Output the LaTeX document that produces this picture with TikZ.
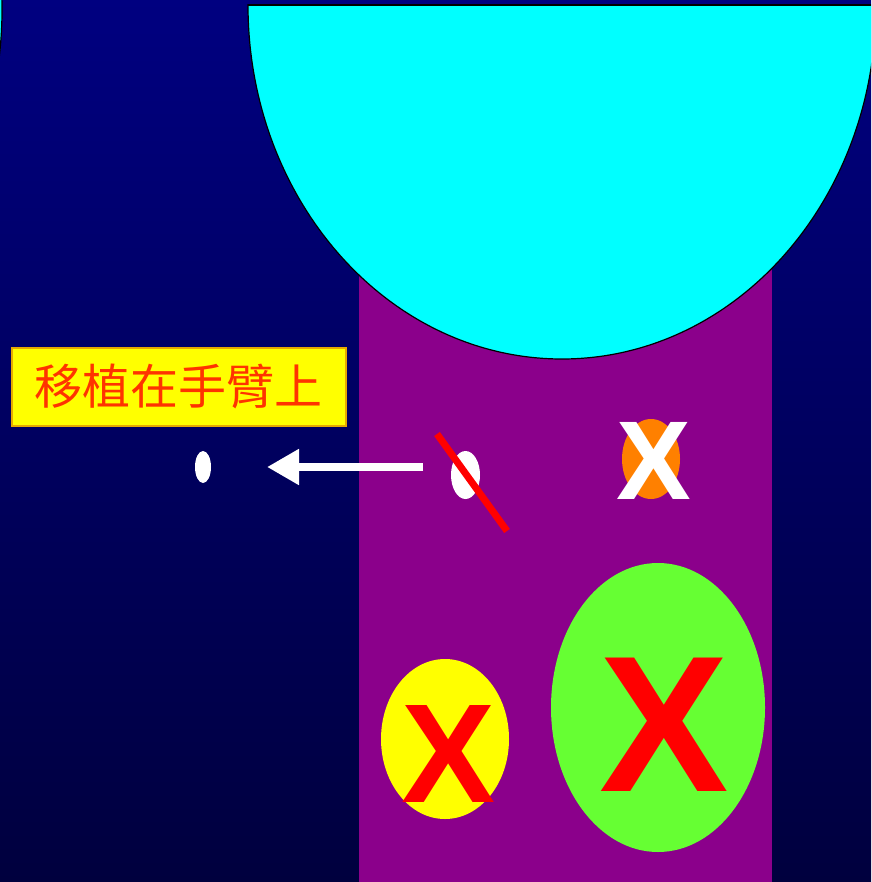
\documentclass[tikz,border=0pt]{standalone}
\usepackage{fontspec}
\setmainfont{Liberation Sans}
\newfontfamily\cjk{Noto Sans CJK TC}
\usetikzlibrary{shapes.geometric,arrows.meta}
\definecolor{bgtop}{RGB}{0,0,128}
\definecolor{bgbot}{RGB}{0,0,62}
\definecolor{cyanfill}{RGB}{0,255,255}
\definecolor{purp}{RGB}{139,0,139}
\definecolor{lime}{RGB}{102,255,51}
\definecolor{orng}{RGB}{255,128,0}
\definecolor{yel}{RGB}{255,255,0}
\definecolor{lblborder}{RGB}{230,170,0}
\definecolor{lbltext}{RGB}{255,51,0}
\tikzset{
  blob/.style={ellipse, inner sep=0pt, draw=none},
  bigx/.style={anchor=base, inner sep=0pt, font=\bfseries\fontsize{#1}{#1}\selectfont},
}
\begin{document}
\begin{tikzpicture}[x=1pt,y=-1pt]
\useasboundingbox (0,0) rectangle (871,882);
\clip (0,0) rectangle (871,882);
% background
\shade[top color=bgtop, bottom color=bgbot] (0,0) rectangle (871,882);
% purple column
\fill[purp] (359,250) rectangle (772,882);
% top-left sliver
\filldraw[fill=cyanfill, draw=black, line width=1.2] (-312,10) ellipse [x radius=314, y radius=354];
% cyan half-ellipse
\begin{scope}
\clip (0,5) rectangle (871,882);
\filldraw[fill=cyanfill, draw=black, line width=1.2] (562,5) ellipse [x radius=314, y radius=354];
\end{scope}
\draw[black, line width=1.2] (248,5) -- (871,5);
% label
\node[draw=lblborder, line width=2, fill=yel, minimum width=334pt, minimum height=78pt, inner sep=0pt,
  text=lbltext, font=\cjk\fontsize{48}{48}\selectfont] (lbl) at (178.5,386.5) {移植在手臂上};
% small ellipses
\node[blob, fill=white, minimum width=16pt, minimum height=32pt] (small) at (203,467) {};
\node[blob, fill=white, minimum width=29pt, minimum height=48pt] (cell) at (465.5,475) {};
% arrow
\coordinate (arrS) at (423,467);
\coordinate (arrE) at (267,467);
\draw[white, line width=8, -{Triangle[length=32pt,width=34pt]}] (arrS) -- (arrE);
% red slash
\coordinate (slA) at (437,434);
\coordinate (slB) at (507,531);
\draw[red, line width=7] (slA) -- (slB);
% orange ellipse + white X
\node[blob, fill=orng, minimum width=58pt, minimum height=80pt] (orng) at (651,459) {};
\node[bigx=112, text=white] (xw) at (654,499) {X};
% yellow ellipse + red X
\node[blob, fill=yel, minimum width=128pt, minimum height=160pt] (yel) at (445,739) {};
\node[bigx=141, text=red] (xy) at (449,802) {X};
% green ellipse + red X
\node[blob, fill=lime, minimum width=214pt, minimum height=289pt] (grn) at (658,707.5) {};
\node[bigx=194, text=red] (xg) at (664,791) {X};
\end{tikzpicture}
\end{document}
